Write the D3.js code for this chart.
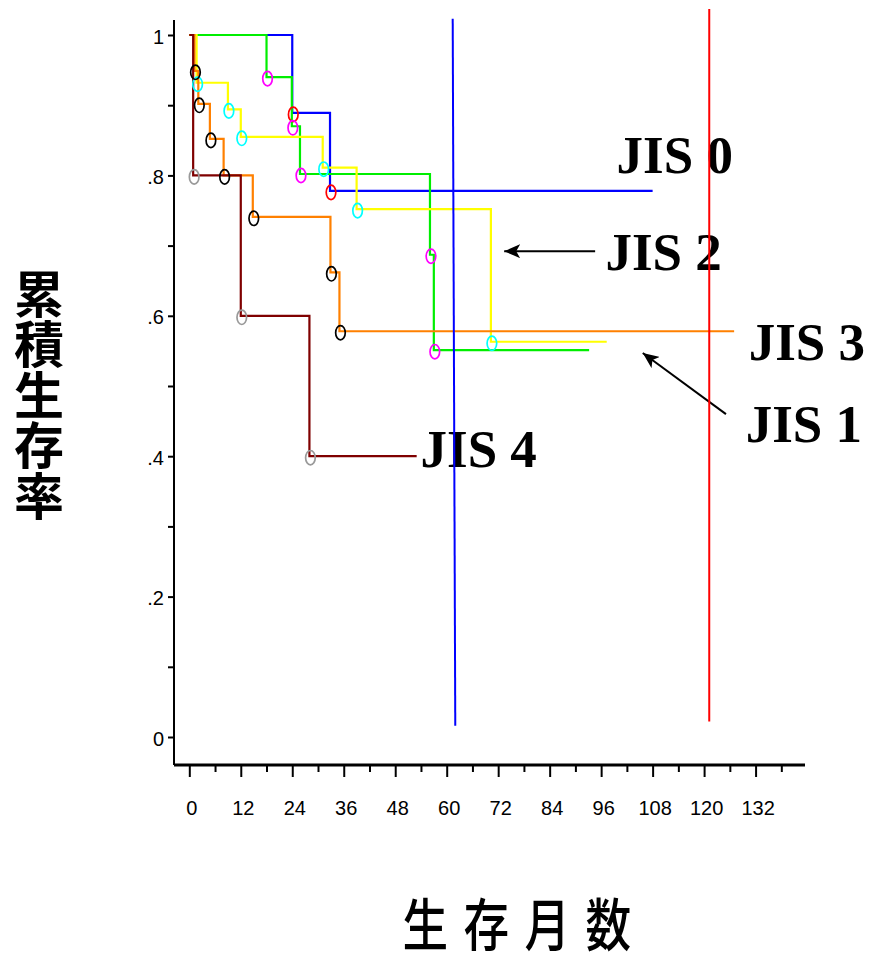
<!DOCTYPE html>
<html>
<head>
<meta charset="utf-8">
<script src="https://cdn.jsdelivr.net/npm/d3@7"></script>
<style>
  html, body { margin: 0; padding: 0; background: #fff; }
  svg { display: block; }
</style>
</head>
<body>
<svg id="chart" width="869" height="959"></svg>
<script>
// Kaplan–Meier survival by JIS score: event times (months) and survival after each step
const jis0Times = [0, 24.0, 32.8];
const jis0Surv  = [1, 0.889, 0.778];
const jis0End   = 108;

const jis1Times = [0, 18.0, 23.9, 25.8, 56.1, 57.0];
const jis1Surv  = [1, 0.940, 0.870, 0.802, 0.687, 0.551];
const jis1End   = 93.2;

const jis2Times = [0, 1.7, 9.0, 12.0, 31.1, 39.0, 70.3];
const jis2Surv  = [1, 0.932, 0.894, 0.855, 0.811, 0.752, 0.563];
const jis2End   = 97.3;

const jis3Times = [0, 1.2, 2.1, 4.8, 8.0, 14.8, 32.9, 35.0];
const jis3Surv  = [1, 0.949, 0.902, 0.852, 0.800, 0.741, 0.662, 0.578];
const jis3End   = 127;

const jis4Times = [0, 0.9, 12.0, 28.0];
const jis4Surv  = [1, 0.8, 0.6, 0.4];
const jis4End   = 53;

// axis ticks
const xMajorTicks = [0, 12, 24, 36, 48, 60, 72, 84, 96, 108, 120, 132];
const xMinorTicks = [6, 18, 30, 42, 54, 66, 78, 90, 102, 114, 126, 138];
const yTicks      = [0, 0.1, 0.2, 0.3, 0.4, 0.5, 0.6, 0.7, 0.8, 0.9, 1.0];
const yTickLabels = ["0", "", ".2", "", ".4", "", ".6", "", ".8", "", "1"];

// reference lines (months, survival at ends)
const refBlue = [[61.4, 1.023], [62.0, 0.016]];
const refRed  = [[121.2, 1.037], [121.2, 0.022]];

// annotation labels and arrows, in chart units (months, survival)
const labelNames = ["JIS 0", "JIS 2", "JIS 3", "JIS 1", "JIS 4"];
const labelAt    = [[99.6, 0.803], [97.0, 0.665], [130.4, 0.537], [129.7, 0.420], [53.9, 0.384]];
const arrowJis2  = [[94.6, 0.692], [73.4, 0.692]];
const arrowJis1  = [[125.1, 0.460], [105.7, 0.547]];

const series = [
  { times: jis0Times, surv: jis0Surv, end: jis0End, line: "#0000ff", mark: "#ff0000" },
  { times: jis1Times, surv: jis1Surv, end: jis1End, line: "#00ee00", mark: "#ff00ff" },
  { times: jis2Times, surv: jis2Surv, end: jis2End, line: "#ffff00", mark: "#00ffff" },
  { times: jis3Times, surv: jis3Surv, end: jis3End, line: "#ff8000", mark: "#000000" },
  { times: jis4Times, surv: jis4Surv, end: jis4End, line: "#7f0000", mark: "#999999" }
];

const svg = d3.select("#chart");
const x = d3.scaleLinear().domain([0, 132]).range([189.3, 189.3 + 4.29 * 132]);
const y = d3.scaleLinear().domain([0, 1]).range([737, 35]);

const axisX = 174, axisY = 765;

// y axis
const yAxis = svg.append("g")
  .attr("transform", `translate(${axisX},0)`)
  .call(d3.axisLeft(y).tickValues(yTicks).tickSize(6).tickPadding(4)
        .tickFormat((d, i) => yTickLabels[i]));
yAxis.select(".domain").remove();
yAxis.selectAll(".tick line").attr("stroke", "#000").attr("stroke-width", 2);
yAxis.selectAll(".tick text")
  .attr("font-family", "Liberation Sans, Arial, sans-serif")
  .attr("font-size", 20).attr("fill", "#000").attr("dy", "0.4em");
svg.append("line")
  .attr("x1", axisX).attr("x2", axisX).attr("y1", 20).attr("y2", axisY)
  .attr("stroke", "#000").attr("stroke-width", 2);

// x axis
const xAxis = svg.append("g")
  .attr("transform", `translate(0,${axisY})`)
  .call(d3.axisBottom(x).tickValues(xMajorTicks).tickSize(12).tickPadding(24)
        .tickFormat(d3.format("d")));
xAxis.select(".domain").remove();
xAxis.selectAll(".tick line").attr("stroke", "#000").attr("stroke-width", 2);
xAxis.selectAll(".tick text")
  .attr("font-family", "Liberation Sans, Arial, sans-serif")
  .attr("font-size", 20).attr("fill", "#000").attr("dx", 2);
const xMinor = svg.append("g")
  .attr("transform", `translate(0,${axisY})`)
  .call(d3.axisBottom(x).tickValues(xMinorTicks).tickSize(7).tickFormat(""));
xMinor.select(".domain").remove();
xMinor.selectAll(".tick line").attr("stroke", "#000").attr("stroke-width", 2);
svg.append("line")
  .attr("x1", axisX).attr("x2", 805).attr("y1", axisY).attr("y2", axisY)
  .attr("stroke", "#000").attr("stroke-width", 3);

// survival step curves
const stepLine = d3.line().x(d => x(d[0])).y(d => y(d[1])).curve(d3.curveStepAfter);
series.forEach(s => {
  const pts = s.times.map((t, i) => [t, s.surv[i]]);
  pts.push([s.end, s.surv[s.surv.length - 1]]);
  svg.append("path")
    .attr("d", stepLine(pts))
    .attr("fill", "none")
    .attr("stroke", s.line)
    .attr("stroke-width", 2.2);
});

// circle markers at each step
series.forEach(s => {
  const steps = s.times.slice(1).map((t, i) => [t, s.surv[i + 1]]);
  svg.append("g").selectAll("ellipse").data(steps).join("ellipse")
    .attr("cx", d => x(d[0]) + 1)
    .attr("cy", d => y(d[1]) + 1.5)
    .attr("rx", 4.8).attr("ry", 7.2)
    .attr("fill", "none")
    .attr("stroke", s.mark)
    .attr("stroke-width", 1.7);
});

// arrows
const defs = svg.append("defs");
defs.append("marker")
  .attr("id", "head").attr("viewBox", "0 0 16 14")
  .attr("refX", 16).attr("refY", 7)
  .attr("markerWidth", 16).attr("markerHeight", 14)
  .attr("markerUnits", "userSpaceOnUse").attr("orient", "auto")
  .append("path").attr("d", "M0,0 L16,7 L0,14 L4,7 Z").attr("fill", "#000");
[arrowJis2, arrowJis1].forEach(a => {
  svg.append("line")
    .attr("x1", x(a[0][0])).attr("y1", y(a[0][1]))
    .attr("x2", x(a[1][0])).attr("y2", y(a[1][1]))
    .attr("stroke", "#000").attr("stroke-width", 2)
    .attr("marker-end", "url(#head)");
});

// curve labels
svg.append("g").selectAll("text").data(labelNames).join("text")
  .attr("x", (d, i) => x(labelAt[i][0]))
  .attr("y", (d, i) => y(labelAt[i][1]))
  .attr("font-family", "Liberation Serif, Times New Roman, serif")
  .attr("font-weight", "bold")
  .attr("font-size", 53)
  .attr("fill", "#000")
  .text(d => d);

// vertical reference lines
[[refBlue, "#0000ff"], [refRed, "#ff0000"]].forEach(([r, c]) => {
  svg.append("line")
    .attr("x1", x(r[0][0])).attr("y1", y(r[0][1]))
    .attr("x2", x(r[1][0])).attr("y2", y(r[1][1]))
    .attr("stroke", c).attr("stroke-width", 2);
});

// y axis title, set in vertical writing mode
svg.append("text")
  .attr("x", 39)
  .attr("y", 395)
  .attr("writing-mode", "vertical-rl")
  .attr("text-anchor", "middle")
  .attr("font-family", "Noto Sans CJK JP, sans-serif")
  .attr("font-weight", 700)
  .attr("font-size", 50)
  .attr("letter-spacing", 0.5)
  .attr("fill", "#000")
  .text("累積生存率");

// x axis title
const xTitle = "生存月数".split("");
const xt = svg.append("g").attr("transform", "translate(516.7,921) scale(0.8,1)");
xt.selectAll("text").data(xTitle).join("text")
  .attr("x", (d, i) => (i - 1.5) * 61 / 0.8)
  .attr("y", 0)
  .attr("text-anchor", "middle")
  .attr("dominant-baseline", "central")
  .attr("font-family", "Noto Sans CJK JP, sans-serif")
  .attr("font-weight", 500)
  .attr("font-size", 57)
  .attr("fill", "#000")
  .text(d => d);
</script>
</body>
</html>
